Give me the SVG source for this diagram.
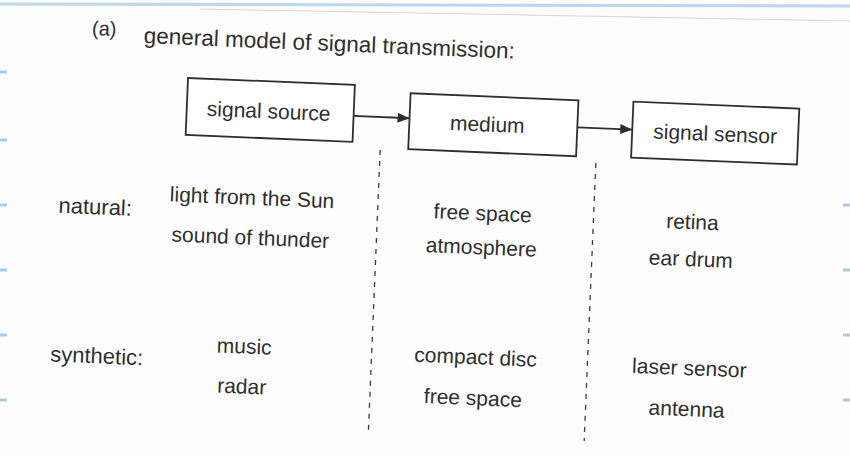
<svg xmlns="http://www.w3.org/2000/svg" width="850" height="455" viewBox="0 0 850 455">
  <style>
    .box { fill: #ffffff; stroke: #2e2e2e; stroke-width: 1.8; }
    .t { font-family: "Liberation Sans", Arial, sans-serif; fill: #2f2f2f; }
    .lbl { font-size: 21px; text-anchor: middle; }
    .body { font-size: 21px; }
    .mid { text-anchor: middle; }
    .row { font-size: 22px; }
    .conn { stroke: #2e2e2e; stroke-width: 1.8; fill: none; }
    .dash { stroke: #3a3a3a; stroke-width: 1.3; stroke-dasharray: 5 6; fill: none; }
    .tick { stroke: #a9cbe8; stroke-width: 3; }
  </style>
  <defs>
    <marker id="arr" viewBox="0 0 12 10" refX="12" refY="5" markerWidth="12" markerHeight="10" markerUnits="userSpaceOnUse" orient="auto">
      <path d="M0,0 L12,5 L0,10 Z" fill="#2e2e2e"/>
    </marker>
  </defs>
  <rect width="850" height="455" fill="#fdfdfd"/>
  <g id="scan-edges">
    <line x1="0" y1="4" x2="850" y2="6" stroke="#b9d6ee" stroke-width="3"/>
    <line x1="200" y1="9" x2="850" y2="21" stroke="#d8d8d8" stroke-width="1"/>
    <line class="tick" x1="0" y1="72" x2="7" y2="72"/>
    <line class="tick" x1="0" y1="140" x2="7" y2="140"/>
    <line class="tick" x1="0" y1="205" x2="7" y2="205"/>
    <line class="tick" x1="0" y1="270" x2="7" y2="270"/>
    <line class="tick" x1="0" y1="335" x2="7" y2="335"/>
    <line class="tick" x1="0" y1="400" x2="7" y2="400"/>
    <line class="tick" x1="843" y1="205" x2="850" y2="205"/>
    <line class="tick" x1="843" y1="270" x2="850" y2="270"/>
    <line class="tick" x1="843" y1="335" x2="850" y2="335"/>
    <line class="tick" x1="843" y1="400" x2="850" y2="400"/>
  </g>
  <g id="page" transform="rotate(2.4 425 227)">
    <g id="title">
      <text class="t" x="84" y="49" font-size="20">(a)</text>
      <text class="t" x="136" y="55" font-size="22.5">general model of signal transmission:</text>
    </g>
    <g id="connectors">
      <line class="conn" x1="349" y1="119" x2="405" y2="119" marker-end="url(#arr)"/>
      <line class="conn" x1="573" y1="121" x2="628" y2="121" marker-end="url(#arr)"/>
      <line class="dash" x1="377" y1="152" x2="377" y2="437"/>
      <line class="dash" x1="593" y1="156" x2="593" y2="434"/>
    </g>
    <g id="signal-source">
      <rect class="box" x="182" y="88" width="167" height="57"/>
      <text class="t lbl" x="264" y="125">signal source</text>
    </g>
    <g id="medium">
      <rect class="box" x="405" y="94" width="168" height="56"/>
      <text class="t lbl" x="483" y="129">medium</text>
    </g>
    <g id="signal-sensor">
      <rect class="box" x="628" y="93" width="166" height="56"/>
      <text class="t lbl" x="711" y="129">signal sensor</text>
    </g>
    <g id="natural-row">
      <text class="t row" x="58" y="228">natural:</text>
      <text class="t body mid" x="251" y="212">light from the Sun</text>
      <text class="t body mid" x="251" y="252">sound of thunder</text>
      <text class="t body mid" x="482" y="218">free space</text>
      <text class="t body mid" x="482" y="252">atmosphere</text>
      <text class="t body mid" x="692" y="218">retina</text>
      <text class="t body mid" x="692" y="255">ear drum</text>
    </g>
    <g id="synthetic-row">
      <text class="t row" x="56" y="377">synthetic:</text>
      <text class="t body" x="222" y="361">music</text>
      <text class="t body" x="224" y="401">radar</text>
      <text class="t body mid" x="481" y="362">compact disc</text>
      <text class="t body mid" x="480" y="403">free space</text>
      <text class="t body mid" x="695" y="364">laser sensor</text>
      <text class="t body mid" x="694" y="405">antenna</text>
    </g>
  </g>
</svg>
